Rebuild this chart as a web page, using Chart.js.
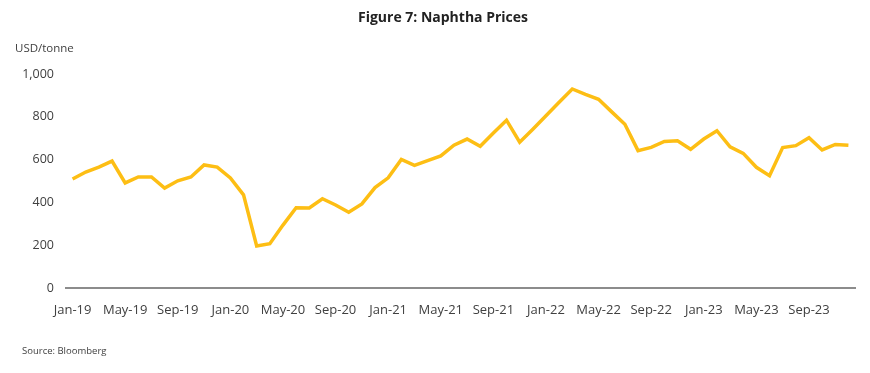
<!DOCTYPE html>
<html>
<head>
<meta charset="utf-8">
<script src="https://cdn.jsdelivr.net/npm/chart.js@4"></script>
<style>
    body { margin: 0; background: #fff; }
    #wrap { position: relative; width: 870px; height: 373px; }
    .txt { position: absolute; font-family: 'Open Sans', sans-serif; color: #404040; white-space: nowrap; }
    #title { left: 0; width: 886px; top: 7px; text-align: center; font-weight: bold; font-size: 14px; color: #222; }
    #unit { left: 15px; top: 40px; font-size: 11.5px; }
    #source { left: 22px; top: 344px; font-size: 9.5px; }
</style>
</head>
<body>
<div id="wrap">
    <canvas id="naphthaChart" width="870" height="373"></canvas>
    <div class="txt" id="title">Figure 7: Naphtha Prices</div>
    <div class="txt" id="unit">USD/tonne</div>
    <div class="txt" id="source">Source: Bloomberg</div>
</div>
<script>
const months = ['Jan', 'Feb', 'Mar', 'Apr', 'May', 'Jun', 'Jul', 'Aug', 'Sep', 'Oct', 'Nov', 'Dec'];
const years = ['19', '20', '21', '22', '23'];
const labels = years.flatMap(y => months.map(m => `${m}-${y}`));

// USD/tonne, monthly Jan-19 .. Dec-23
const prices2019 = [509, 542, 565, 593, 491, 519, 519, 467, 501, 519, 575, 565];
const prices2020 = [514, 435, 196, 207, 294, 375, 374, 417, 388, 354, 393, 469];
const prices2021 = [515, 601, 573, 595, 617, 667, 696, 662, 724, 784, 681, 742];
const prices2022 = [805, 868, 930, 905, 882, 823, 765, 642, 657, 685, 688, 648];
const prices2023 = [696, 735, 660, 629, 564, 525, 656, 665, 702, 645, 671, 667];
const prices = [...prices2019, ...prices2020, ...prices2021, ...prices2022, ...prices2023];

const yTicks = [0, 200, 400, 600, 800, 1000];

const ctx = document.getElementById('naphthaChart');
new Chart(ctx, {
    type: 'line',
    data: {
        labels: labels,
        datasets: [{
            label: 'Naphtha',
            data: prices,
            borderColor: '#FDBE14',
            borderWidth: 3.5,
            pointRadius: 0,
            tension: 0,
            fill: false
        }]
    },
    options: {
        responsive: false,
        animation: false,
        layout: {
            padding: { left: 0, right: 15, top: 74, bottom: 0 }
        },
        plugins: {
            legend: { display: false },
            title: { display: false },
            tooltip: { enabled: false }
        },
        scales: {
            x: {
                offset: true,
                grid: { display: false, drawTicks: false },
                border: { display: true, color: '#8c8c8c', width: 2 },
                ticks: {
                    color: '#404040',
                    font: { family: 'Open Sans', size: 13 },
                    autoSkip: false,
                    maxRotation: 0,
                    padding: 14,
                    callback: function (val, i) {
                        return i % 4 === 0 ? labels[i] : null;
                    }
                },
                afterFit: function (scale) { scale.height = 85; }
            },
            y: {
                min: 0,
                max: 1000,
                afterBuildTicks: function (scale) {
                    scale.ticks = yTicks.map(v => ({ value: v }));
                },
                grid: { display: false, drawTicks: false },
                border: { display: false },
                ticks: {
                    color: '#404040',
                    font: { family: 'Open Sans', size: 12.5 },
                    padding: 12,
                    callback: v => v.toLocaleString('en-US')
                },
                afterFit: function (scale) { scale.width = 66; }
            }
        }
    }
});
</script>
</body>
</html>
